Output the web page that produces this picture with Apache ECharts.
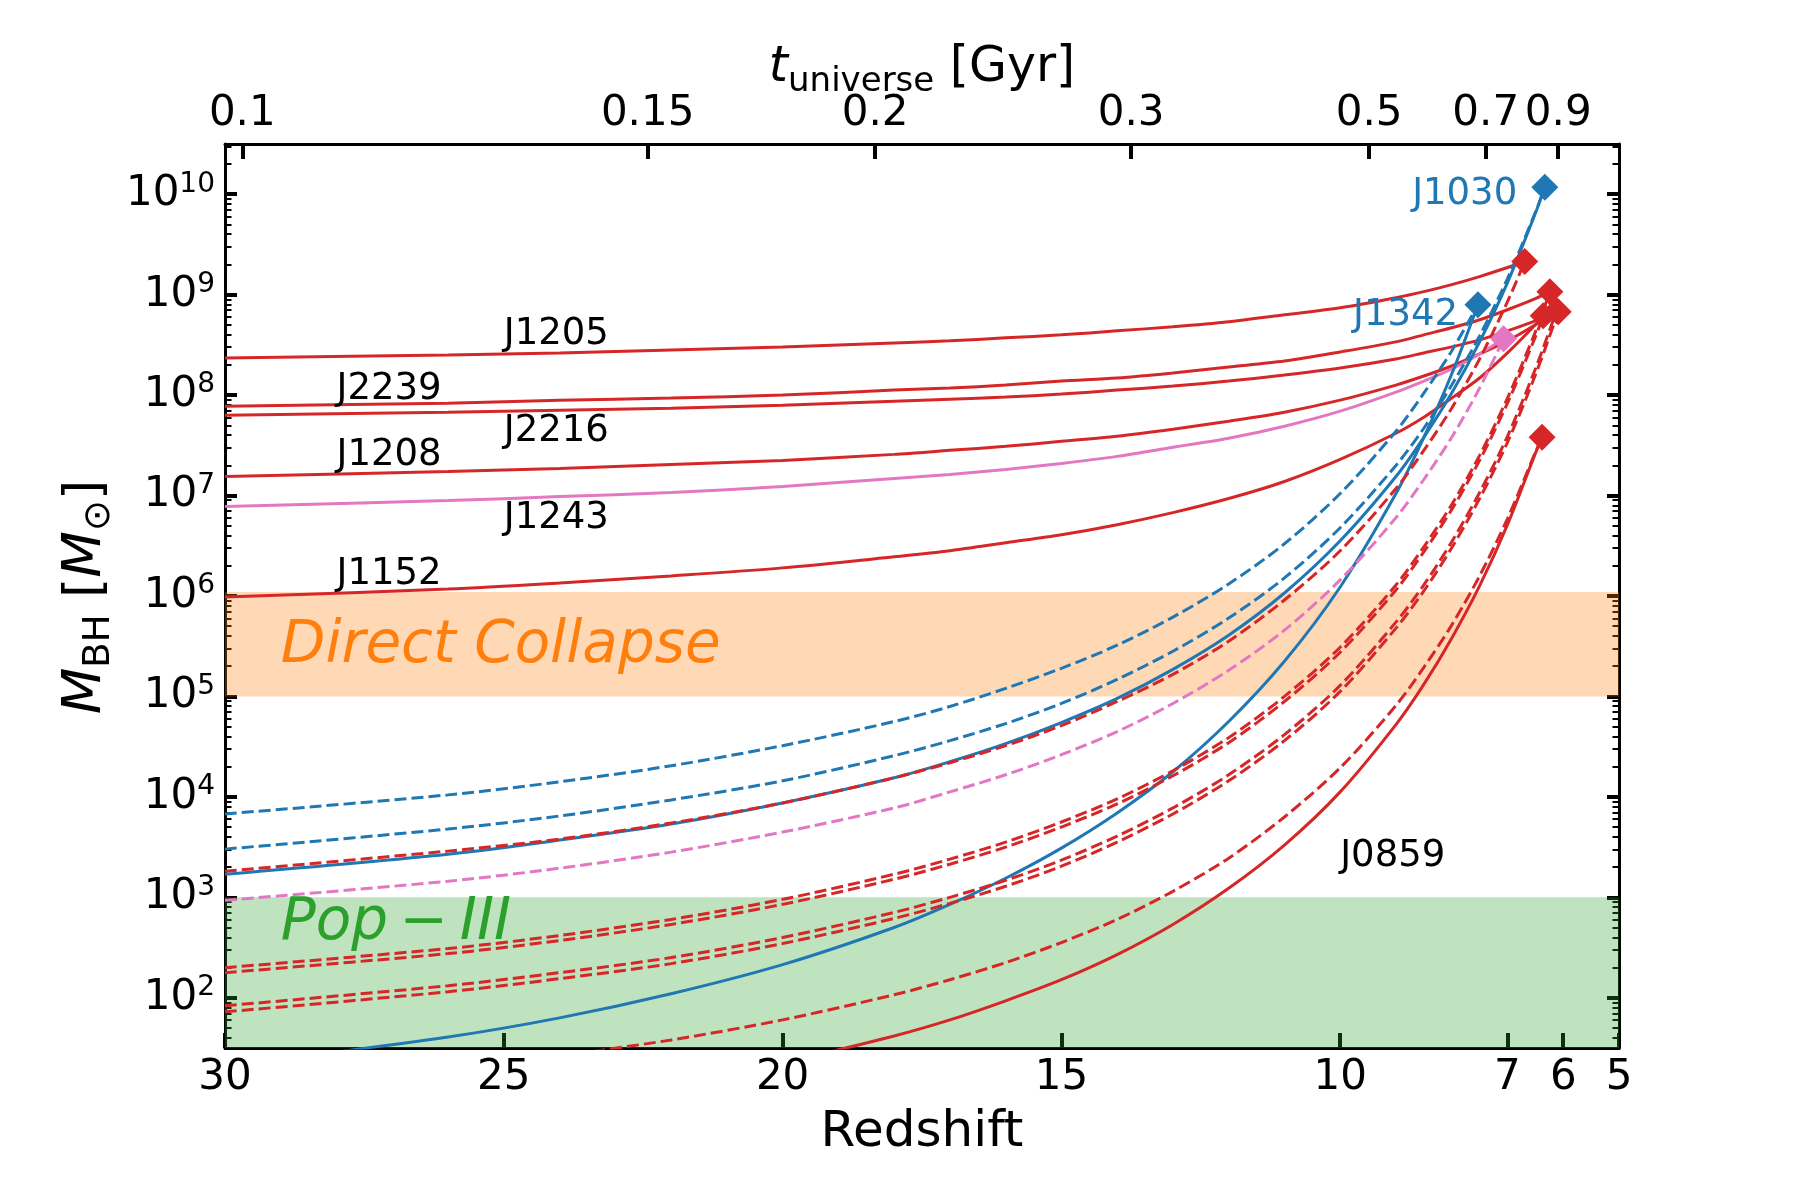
<!DOCTYPE html>
<html>
<head>
<meta charset="utf-8">
<script src="https://cdn.jsdelivr.net/npm/echarts@6/dist/echarts.min.js"></script>
<style>
  html, body { margin: 0; padding: 0; background: #fff; }
  #chart { width: 1800px; height: 1200px; }
</style>
</head>
<body>
<div id="chart"></div>
<script>
// ---- axes ----
const redshiftTicks = [30, 25, 20, 15, 10, 7, 6, 5];
const tUniverseLabels = ['0.1', '0.15', '0.2', '0.3', '0.5', '0.7', '0.9'];
const tUniverseRedshift = [29.69, 22.42, 18.34, 13.75, 9.48, 7.39, 6.09]; // where each age tick sits in z
const massTickExponents = [2, 3, 4, 5, 6, 7, 8, 9, 10];

// ---- observed quasars (log10 M_BH) ----
const quasarNames = ['J1030', 'J1342', 'J1205', 'J2239', 'J1152', 'J1208', 'J2216', 'J1243', 'J0859'];
const quasarRedshift = [6.33, 7.53, 6.69, 6.24, 6.36, 6.12, 6.09, 7.07, 6.38];
const quasarLogMass = [10.07, 8.90, 9.33, 9.03, 8.79, 8.84, 8.83, 8.56, 7.58];

// ---- growth tracks, log10 M_BH read on this redshift grid (null = not drawn) ----
const redshiftGrid = [30, 26, 24, 22, 20, 18, 17, 16, 15, 14, 13, 12, 11, 10, 9, 8.5, 8, 7.5, 7, 6.5];

const solidJ1205 = [8.37, 8.40, 8.42, 8.45, 8.48, 8.52, 8.54, 8.57, 8.60, 8.64, 8.68, 8.73, 8.80, 8.87, 8.97, 9.03, 9.10, 9.18, 9.27, null];
const solidJ2239 = [7.89, 7.92, 7.95, 7.97, 8.00, 8.05, 8.07, 8.10, 8.14, 8.17, 8.22, 8.28, 8.34, 8.43, 8.53, 8.60, 8.67, 8.75, 8.85, 8.96];
const solidJ2216 = [7.80, 7.83, 7.85, 7.87, 7.90, 7.94, 7.96, 7.98, 8.01, 8.05, 8.09, 8.14, 8.20, 8.27, 8.36, 8.42, 8.48, 8.55, 8.64, 8.74];
const solidJ1208 = [7.19, 7.24, 7.27, 7.31, 7.35, 7.41, 7.45, 7.49, 7.54, 7.59, 7.66, 7.74, 7.83, 7.95, 8.10, 8.19, 8.29, 8.41, 8.54, 8.70];
const solidJ1152 = [5.99, 6.07, 6.13, 6.20, 6.28, 6.39, 6.45, 6.53, 6.61, 6.71, 6.83, 6.97, 7.14, 7.36, 7.62, 7.78, 7.97, 8.17, 8.42, 8.70];
const solidJ1243 = [6.89, 6.95, 6.99, 7.03, 7.09, 7.17, 7.21, 7.26, 7.32, 7.39, 7.48, 7.57, 7.69, 7.84, 8.03, 8.14, 8.26, 8.41, null, null];
const solidJ1030 = [3.23, 3.43, 3.57, 3.73, 3.94, 4.19, 4.35, 4.53, 4.74, 4.98, 5.27, 5.61, 6.03, 6.55, 7.19, 7.58, 8.02, 8.53, 9.12, 9.81];
const solidJ1342 = [1.32, 1.61, 1.80, 2.04, 2.33, 2.70, 2.93, 3.19, 3.49, 3.84, 4.25, 4.75, 5.35, 6.09, 7.02, 7.58, 8.21, null, null, null];
const solidJ0859 = [null, null, null, null, 1.35, 1.62, 1.78, 1.97, 2.18, 2.43, 2.73, 3.09, 3.52, 4.05, 4.72, 5.12, 5.58, 6.10, 6.71, 7.42];

const dashedJ1030 = [3.48, 3.68, 3.81, 3.97, 4.16, 4.41, 4.56, 4.73, 4.93, 5.17, 5.45, 5.78, 6.18, 6.68, 7.30, 7.67, 8.10, 8.59, 9.16, 9.82];
const dashedJ1342 = [3.83, 4.02, 4.15, 4.31, 4.51, 4.75, 4.90, 5.08, 5.28, 5.51, 5.79, 6.12, 6.52, 7.02, 7.64, 8.02, 8.44, null, null, null];
const dashedJ1205 = [3.26, 3.46, 3.58, 3.74, 3.94, 4.19, 4.34, 4.51, 4.71, 4.95, 5.22, 5.55, 5.96, 6.45, 7.07, 7.45, 7.87, 8.36, 8.93, null];
const dashedJ1243 = [2.97, 3.16, 3.29, 3.45, 3.65, 3.89, 4.05, 4.22, 4.42, 4.65, 4.93, 5.26, 5.66, 6.16, 6.78, 7.16, 7.58, 8.07, null, null];
const dashedJ2239 = [2.30, 2.49, 2.62, 2.78, 2.98, 3.23, 3.38, 3.55, 3.75, 3.98, 4.26, 4.59, 5.00, 5.49, 6.11, 6.49, 6.91, 7.40, 7.97, 8.63];
const dashedJ1152 = [2.25, 2.44, 2.57, 2.73, 2.93, 3.18, 3.33, 3.50, 3.70, 3.93, 4.21, 4.54, 4.95, 5.44, 6.06, 6.44, 6.86, 7.35, 7.92, 8.58];
const dashedJ1208 = [1.92, 2.12, 2.25, 2.40, 2.60, 2.85, 3.00, 3.17, 3.37, 3.61, 3.89, 4.22, 4.62, 5.11, 5.74, 6.11, 6.54, 7.03, 7.59, 8.26];
const dashedJ2216 = [1.86, 2.06, 2.19, 2.34, 2.54, 2.79, 2.94, 3.11, 3.31, 3.55, 3.83, 4.16, 4.56, 5.05, 5.68, 6.05, 6.48, 6.97, 7.53, 8.20];
const dashedJ0859 = [null, null, 1.42, 1.58, 1.78, 2.03, 2.18, 2.35, 2.55, 2.78, 3.06, 3.39, 3.80, 4.29, 4.91, 5.29, 5.71, 6.20, 6.77, 7.43];

// ---- seed regions (log10 M) ----
const directCollapseRange = [5, 6.04];
const popIIIRange = [1.5, 3];

// ---- name labels in the plot ----
const labelNames = ['J1205', 'J2239', 'J2216', 'J1208', 'J1243', 'J1152', 'J0859', 'J1030', 'J1342'];
const labelRedshift = [25, 28, 25, 28, 25, 28, 10, 8.71, 9.77];
const labelLogMass = [8.60, 8.06, 7.64, 7.40, 6.77, 6.22, 3.41, 10.0, 8.79];

const FONT = 'DejaVu Sans';
const BLUE = '#1f77b4', RED = '#d62728', PINK = '#e377c2';
const colorOf = name => (name === 'J1030' || name === 'J1342') ? BLUE : (name === 'J1243' ? PINK : RED);

const tracks = [
  ['J1205', solidJ1205, 'solid'], ['J2239', solidJ2239, 'solid'], ['J2216', solidJ2216, 'solid'],
  ['J1208', solidJ1208, 'solid'], ['J1152', solidJ1152, 'solid'], ['J1243', solidJ1243, 'solid'],
  ['J1030', solidJ1030, 'solid'], ['J1342', solidJ1342, 'solid'], ['J0859', solidJ0859, 'solid'],
  ['J1030', dashedJ1030, 'dashed'], ['J1342', dashedJ1342, 'dashed'], ['J1205', dashedJ1205, 'dashed'],
  ['J1243', dashedJ1243, 'dashed'], ['J2239', dashedJ2239, 'dashed'], ['J1152', dashedJ1152, 'dashed'],
  ['J1208', dashedJ1208, 'dashed'], ['J2216', dashedJ2216, 'dashed'], ['J0859', dashedJ0859, 'dashed']
];

function trackData(name, values) {
  const i = quasarNames.indexOf(name);
  const pts = [];
  redshiftGrid.forEach((z, k) => { if (values[k] != null) pts.push([z, values[k]]); });
  pts.push([quasarRedshift[i], quasarLogMass[i]]);
  return pts;
}

// log-axis minor ticks (2..9 x 10^n)
const minorTicks = [];
for (let e = 1; e <= 10; e++) {
  for (let k = 2; k <= 9; k++) {
    const v = e + Math.log10(k);
    if (v > 1.5 && v < 10.5) minorTicks.push(v);
  }
}

const series = tracks.map(([name, values, style]) => ({
  type: 'line',
  name: name + ' ' + style,
  data: trackData(name, values),
  showSymbol: false,
  symbol: 'none',
  smooth: 0.3,
  silent: true,
  z: 2,
  lineStyle: { color: colorOf(name), width: 3, type: style === 'dashed' ? [12, 5] : 'solid' }
}));

// shaded seed regions, drawn on top of the tracks
series.push({
  type: 'line',
  data: [],
  silent: true,
  z: 10,
  markArea: {
    silent: true,
    data: [
      [{ coord: [30, directCollapseRange[0]], itemStyle: { color: 'rgba(255,127,14,0.3)' } }, { coord: [5, directCollapseRange[1]] }],
      [{ coord: [30, popIIIRange[0]], itemStyle: { color: 'rgba(44,160,44,0.3)' } }, { coord: [5, popIIIRange[1]] }]
    ]
  }
});

// observed quasars
series.push({
  type: 'scatter',
  symbol: 'diamond',
  symbolSize: 27,
  silent: true,
  z: 5,
  data: quasarNames.map((n, i) => ({
    value: [quasarRedshift[i], quasarLogMass[i]],
    itemStyle: { color: colorOf(n), opacity: 1 }
  }))
});

// quasar names
series.push({
  type: 'scatter',
  symbolSize: 1,
  itemStyle: { color: 'rgba(0,0,0,0)', opacity: 1 },
  silent: true,
  z: 20,
  data: labelNames.map((n, i) => ({
    value: [labelRedshift[i], labelLogMass[i]],
    label: { color: (n === 'J1030' || n === 'J1342') ? BLUE : '#000' }
  })),
  label: {
    show: true, position: 'inside', align: 'left', verticalAlign: 'middle', opacity: 1,
    fontFamily: FONT, fontSize: 37,
    formatter: p => labelNames[p.dataIndex]
  }
});

// seed region names
series.push({
  type: 'scatter',
  symbolSize: 1,
  itemStyle: { color: 'rgba(0,0,0,0)', opacity: 1 },
  silent: true,
  z: 20,
  data: [
    { value: [29, 5.49], label: { formatter: 'Direct Collapse', color: '#ff7f0e' } },
    { value: [29, 2.74], label: { formatter: 'Pop\u2009\u2212\u2009III', color: '#2ca02c' } }
  ],
  label: {
    show: true, position: 'inside', align: 'left', verticalAlign: 'middle', opacity: 1,
    fontFamily: FONT, fontSize: 58, fontStyle: 'italic'
  }
});

const axisLine = { show: true, onZero: false, lineStyle: { color: '#000', width: 3 } };
const tickFont = { color: '#000', fontFamily: FONT, fontSize: 42 };

const option = {
  animation: false,
  backgroundColor: '#fff',
  grid: { left: 225, right: 181, top: 144, bottom: 152, outerBoundsMode: 'none' },
  xAxis: [
    {
      type: 'value', position: 'bottom', min: 5, max: 30, inverse: true,
      axisLine, splitLine: { show: false },
      axisTick: { inside: true, length: 15, lineStyle: { color: '#000', width: 4 }, customValues: redshiftTicks },
      axisLabel: Object.assign({ margin: 9, customValues: redshiftTicks, hideOverlap: false, formatter: v => String(Math.round(v)) }, tickFont)
    },
    {
      type: 'value', position: 'top', min: 5, max: 30, inverse: true,
      axisLine, splitLine: { show: false },
      axisTick: { inside: true, length: 15, lineStyle: { color: '#000', width: 4 }, customValues: tUniverseRedshift },
      axisLabel: Object.assign({
        margin: 9, customValues: tUniverseRedshift, hideOverlap: false,
        formatter: v => {
          const i = tUniverseRedshift.findIndex(z => Math.abs(z - v) < 1e-6);
          return i >= 0 ? tUniverseLabels[i] : '';
        }
      }, tickFont)
    }
  ],
  yAxis: [
    {
      type: 'value', position: 'left', min: 1.5, max: 10.5,
      axisLine, splitLine: { show: false },
      axisTick: { inside: true, length: 12, lineStyle: { color: '#000', width: 4 }, customValues: massTickExponents },
      axisLabel: {
        margin: 10, customValues: massTickExponents, color: '#000',
        formatter: v => '{b|10}{s|' + Math.round(v) + '}',
        rich: {
          b: { fontFamily: FONT, fontSize: 42, lineHeight: 48, color: '#000' },
          s: { fontFamily: FONT, fontSize: 28, lineHeight: 28, verticalAlign: 'top', color: '#000' }
        }
      }
    },
    {
      type: 'value', position: 'left', min: 1.5, max: 10.5,
      axisLine: { show: false }, splitLine: { show: false }, axisLabel: { show: false },
      axisTick: { inside: true, length: 6.5, lineStyle: { color: '#000', width: 2 }, customValues: minorTicks }
    },
    {
      type: 'value', position: 'right', min: 1.5, max: 10.5,
      axisLine, splitLine: { show: false }, axisLabel: { show: false },
      axisTick: { inside: true, length: 12, lineStyle: { color: '#000', width: 4 }, customValues: massTickExponents }
    },
    {
      type: 'value', position: 'right', min: 1.5, max: 10.5,
      axisLine: { show: false }, splitLine: { show: false }, axisLabel: { show: false },
      axisTick: { inside: true, length: 6.5, lineStyle: { color: '#000', width: 2 }, customValues: minorTicks }
    }
  ],
  graphic: [
    {
      type: 'text', x: 922, y: 68,
      style: {
        text: '{it|t}{sub|universe} [Gyr]',
        fontFamily: FONT, fontSize: 49, lineHeight: 62, fill: '#000',
        align: 'center', verticalAlign: 'middle', textAlign: 'center', textVerticalAlign: 'middle',
        rich: {
          it: { fontFamily: FONT, fontSize: 49, fontStyle: 'italic', lineHeight: 62 },
          sub: { fontFamily: FONT, fontSize: 34, lineHeight: 34, verticalAlign: 'bottom' }
        }
      }
    },
    {
      type: 'text', x: 922, y: 1133,
      style: {
        text: 'Redshift', fontFamily: FONT, fontSize: 50, fill: '#000',
        align: 'center', verticalAlign: 'middle', textAlign: 'center', textVerticalAlign: 'middle'
      }
    },
    {
      type: 'text', x: 86, y: 597, rotation: Math.PI / 2,
      style: {
        text: '{it|M}{sub|BH} [{it|M}{sub|\u2299}]',
        fontFamily: FONT, fontSize: 52, lineHeight: 64, fill: '#000',
        align: 'center', verticalAlign: 'middle', textAlign: 'center', textVerticalAlign: 'middle',
        rich: {
          it: { fontFamily: FONT, fontSize: 54, fontStyle: 'italic', lineHeight: 64 },
          sub: { fontFamily: FONT, fontSize: 37, lineHeight: 37, verticalAlign: 'bottom' }
        }
      }
    }
  ],
  series
};

const chart = echarts.init(document.getElementById('chart'));
chart.setOption(option);
</script>
</body>
</html>
